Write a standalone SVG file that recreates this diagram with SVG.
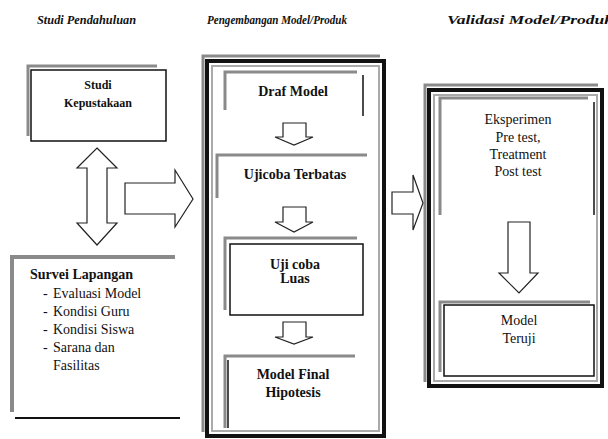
<svg xmlns="http://www.w3.org/2000/svg" width="608" height="439" viewBox="0 0 608 439">
<style>
  .hdr{font-family:"Liberation Serif","Times New Roman",serif;font-style:italic;font-weight:bold;font-size:12px;fill:#111}
  .t{font-family:"Liberation Serif","Times New Roman",serif;font-weight:bold;font-size:14px;fill:#111;text-anchor:middle}
  .tn{font-family:"Liberation Serif","Times New Roman",serif;font-size:14px;fill:#111}
  .tb{font-family:"Liberation Serif","Times New Roman",serif;font-weight:bold;font-size:14px;fill:#111}
  .sh{fill:none;stroke:#8a8a8a;stroke-width:3}
  .bk{fill:none;stroke:#111;stroke-width:1.5}
  .frame{fill:none;stroke:#111;stroke-width:4}
  .inner{fill:none;stroke:#aaa;stroke-width:2}
  .arrow{fill:#fff;stroke:#222;stroke-width:1.2;stroke-linejoin:miter}
</style>
<rect width="608" height="439" fill="#fff"/>

<g id="headers">
  <text class="hdr" x="37" y="24" textLength="99" lengthAdjust="spacingAndGlyphs">Studi Pendahuluan</text>
  <text class="hdr" x="207" y="24" textLength="140" lengthAdjust="spacingAndGlyphs">Pengembangan Model/Produk</text>
  <text class="hdr" x="447" y="24" textLength="166" lengthAdjust="spacingAndGlyphs">Validasi Model/Produk</text>
</g>

<g id="frame-pengembangan">
  <polyline class="sh" points="203,432 203,56 380,56"/>
  <rect class="frame" x="207" y="61" width="177" height="375"/>
  <rect class="inner" x="212" y="66" width="167" height="365"/>
</g>

<g id="frame-validasi">
  <polyline class="sh" points="425,382 425,85 598,85"/>
  <rect class="frame" x="429" y="90" width="173" height="296"/>
  <rect class="inner" x="434" y="95" width="163" height="286"/>
</g>

<g id="studi-kepustakaan">
  <polyline class="sh" points="28,136 28,66 157,66"/>
  <rect class="bk" x="31" y="70" width="135" height="71" fill="#fff"/>
  <text class="t" x="98" y="89" style="font-size:12px">Studi</text>
  <text class="t" x="98" y="107" style="font-size:12px">Kepustakaan</text>
</g>

<g id="survei-lapangan">
  <polyline class="sh" points="12,412 12,257 175,257" style="stroke-width:4"/>
  <line x1="15" y1="418" x2="180" y2="418" stroke="#111" stroke-width="2"/>
  <text class="tb" x="30" y="279">Survei Lapangan</text>
  <text class="tn" x="43" y="298">-</text><text class="tn" x="53" y="298">Evaluasi Model</text>
  <text class="tn" x="43" y="316">-</text><text class="tn" x="53" y="316">Kondisi Guru</text>
  <text class="tn" x="43" y="334">-</text><text class="tn" x="53" y="334">Kondisi Siswa</text>
  <text class="tn" x="43" y="352">-</text><text class="tn" x="53" y="352">Sarana dan</text>
  <text class="tn" x="53" y="370">Fasilitas</text>
</g>

<g id="draf-model">
  <polyline class="sh" points="225,110 225,72 357,72"/>
  <line class="bk" x1="363" y1="75" x2="363" y2="116"/>
  <text class="t" x="293" y="96">Draf Model</text>
</g>

<g id="ujicoba-terbatas">
  <polyline class="sh" points="217,198 217,155 367,155"/>
  <text class="t" x="295" y="179">Ujicoba Terbatas</text>
</g>

<g id="ujicoba-luas">
  <polyline class="sh" points="225,310 225,238 357,238"/>
  <rect class="bk" x="230" y="244" width="133" height="71" fill="#fff"/>
  <text class="t" x="295" y="269">Uji coba</text>
  <text class="t" x="295" y="283">Luas</text>
</g>

<g id="model-final">
  <polyline class="sh" points="225,428 225,356 355,356"/>
  <line class="bk" x1="228" y1="360" x2="228" y2="428"/>
  <text class="t" x="293" y="379">Model Final</text>
  <text class="t" x="293" y="397">Hipotesis</text>
</g>

<g id="eksperimen">
  <polyline class="sh" points="440,215 440,98 588,98"/>
  <line class="bk" x1="594" y1="102" x2="594" y2="215"/>
  <text class="t" x="518" y="124" style="font-weight:normal">Eksperimen</text>
  <text class="t" x="518" y="142" style="font-weight:normal">Pre test,</text>
  <text class="t" x="518" y="159" style="font-weight:normal">Treatment</text>
  <text class="t" x="518" y="176" style="font-weight:normal">Post test</text>
</g>

<g id="model-teruji">
  <polyline class="sh" points="440,372 440,302 590,302"/>
  <rect class="bk" x="444" y="305" width="150" height="71" fill="#fff"/>
  <text class="t" x="519" y="325" style="font-weight:normal">Model</text>
  <text class="t" x="519" y="343" style="font-weight:normal">Teruji</text>
</g>

<g id="connectors">
  <polygon class="arrow" points="97,148 117,168 107,168 107,223 117,223 97,245 77,223 87,223 87,168 77,168"/>
  <polygon class="arrow" points="125,183 175,183 175,170 193,199 175,227 175,214 125,214"/>
  <polygon class="arrow" points="392,192 413,192 413,175 423,203 413,230 413,214 392,214"/>
  <polygon class="arrow" points="283,123 306,123 306,137 313,137 294,145 275,137 283,137"/>
  <polygon class="arrow" points="283,207 306,207 306,222 313,222 294,232 275,222 283,222"/>
  <polygon class="arrow" points="283,322 306,322 306,337 313,337 294,344 275,337 283,337"/>
  <polygon class="arrow" points="508,222 530,222 530,273 538,273 519,293 499,273 508,273"/>
</g>
</svg>
